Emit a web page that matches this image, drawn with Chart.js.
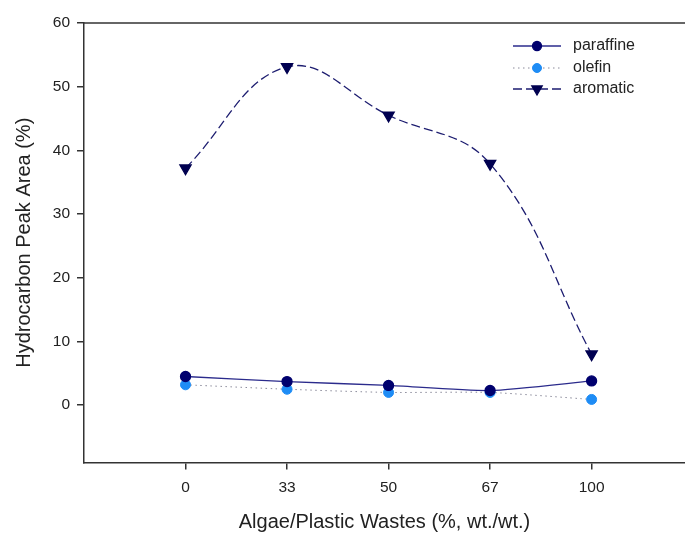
<!DOCTYPE html>
<html>
<head>
<meta charset="utf-8">
<script src="https://cdn.jsdelivr.net/npm/chart.js@4.4.0/dist/chart.umd.min.js"></script>
<style>
  html, body { margin: 0; padding: 0; background: #fff; overflow: hidden; }
  #wrap { width: 685px; height: 534px; }
</style>
</head>
<body>
<div id="wrap"><canvas id="chart" width="685" height="534"></canvas></div>
<script>
// data
var categories = ["0", "33", "50", "67", "100"];
var paraffine = [4.5, 3.7, 3.1, 2.3, 3.8];
var olefin = [3.2, 2.5, 2.0, 2.0, 0.9];
var aromatic = [37.2, 53.1, 45.5, 37.9, 8.0];
var yTicks = [0, 10, 20, 30, 40, 50, 60];

var font = "'Liberation Sans', Arial, sans-serif";

function toPoints(arr) {
  return arr.map(function(v, i) { return { x: i, y: v }; });
}

// little legend in the top right, line + marker like the original
var legendPlugin = {
  id: "sampleLegend",
  afterDraw: function(chart) {
    var ctx = chart.ctx;
    var rows = [46, 68, 89];
    chart.data.datasets.forEach(function(ds, i) {
      var y = rows[i];
      ctx.save();
      ctx.strokeStyle = ds.borderColor;
      ctx.lineWidth = ds.borderWidth;
      ctx.setLineDash(ds.borderDash || []);
      ctx.beginPath();
      ctx.moveTo(513, y);
      ctx.lineTo(561, y);
      ctx.stroke();
      ctx.setLineDash([]);
      ctx.fillStyle = ds.pointBackgroundColor;
      ctx.strokeStyle = ds.pointBorderColor;
      Chart.helpers.drawPoint(ctx, {
        pointStyle: ds.pointStyle,
        rotation: ds.pointRotation || 0,
        radius: ds.legendRadius,
        borderWidth: 1
      }, 537, y);
      ctx.fillStyle = "#222";
      ctx.font = "16px " + font;
      ctx.textBaseline = "middle";
      ctx.fillText(ds.label, 573, y);
      ctx.restore();
    });
  }
};

// top frame line (the right edge is off the picture)
var framePlugin = {
  id: "topFrame",
  afterDraw: function(chart) {
    var a = chart.chartArea, ctx = chart.ctx;
    ctx.save();
    ctx.strokeStyle = "#333";
    ctx.lineWidth = 1.5;
    ctx.beginPath();
    ctx.moveTo(a.left, a.top);
    ctx.lineTo(chart.width, a.top);
    ctx.stroke();
    ctx.restore();
  }
};

new Chart(document.getElementById("chart"), {
  type: "line",
  data: {
    datasets: [
      {
        label: "paraffine",
        data: toPoints(paraffine),
        borderColor: "#2b2b8c",
        borderWidth: 1.3,
        pointStyle: "circle",
        pointRadius: 5,
        legendRadius: 4.5,
        pointBackgroundColor: "#00006e",
        pointBorderColor: "#00006e",
        tension: 0.2
      },
      {
        label: "olefin",
        data: toPoints(olefin),
        borderColor: "#8a8a9a",
        borderWidth: 1,
        borderDash: [1.5, 3.5],
        pointStyle: "circle",
        pointRadius: 5,
        legendRadius: 4.5,
        pointBackgroundColor: "#1e8cf5",
        pointBorderColor: "#1e8cf5",
        tension: 0.2
      },
      {
        label: "aromatic",
        data: toPoints(aromatic),
        borderColor: "#1d1d70",
        borderWidth: 1.3,
        borderDash: [9, 4],
        pointStyle: "triangle",
        pointRotation: 180,
        pointRadius: 6.5,
        legendRadius: 6,
        pointBackgroundColor: "#000050",
        pointBorderColor: "#000050",
        tension: 0.4
      }
    ]
  },
  options: {
    responsive: false,
    animation: false,
    layout: { autoPadding: false, padding: { left: 0, top: 23, right: 0, bottom: 0 } },
    plugins: { legend: { display: false }, tooltip: { enabled: false } },
    scales: {
      x: {
        type: "linear",
        min: -1,
        max: 4.92,
        afterBuildTicks: function(scale) {
          scale.ticks = categories.map(function(c, i) { return { value: i }; });
        },
        afterFit: function(scale) {
          scale.height = 71.5;
          scale.paddingLeft = 0;
          scale.paddingRight = 0;
        },
        ticks: {
          autoSkip: false,
          maxRotation: 0,
          padding: 9,
          color: "#222",
          font: { family: font, size: 15.5 },
          callback: function(v) { return categories[v]; }
        },
        grid: { display: true, drawOnChartArea: false, drawTicks: true, tickLength: 7, color: "#333", lineWidth: 1.5 },
        border: { display: true, color: "#333", width: 1.5 },
        title: {
          display: true,
          text: "Algae/Plastic Wastes (%, wt./wt.)",
          color: "#222",
          font: { family: font, size: 20 },
          padding: { top: 0, bottom: 0 }
        }
      },
      y: {
        min: -9,
        max: 60,
        afterBuildTicks: function(scale) {
          scale.ticks = yTicks.map(function(v) { return { value: v }; });
        },
        afterFit: function(scale) {
          scale.width = 84;
          scale.paddingTop = 0;
          scale.paddingBottom = 0;
        },
        ticks: {
          padding: 7,
          color: "#222",
          font: { family: font, size: 15.5 }
        },
        grid: { display: true, drawOnChartArea: false, drawTicks: true, tickLength: 7, color: "#333", lineWidth: 1.5 },
        border: { display: true, color: "#333", width: 1.5 },
        title: {
          display: true,
          text: "Hydrocarbon Peak Area (%)",
          color: "#222",
          font: { family: font, size: 20 },
          padding: { top: 12, bottom: 0 }
        }
      }
    }
  },
  plugins: [legendPlugin, framePlugin]
});
</script>
</body>
</html>
